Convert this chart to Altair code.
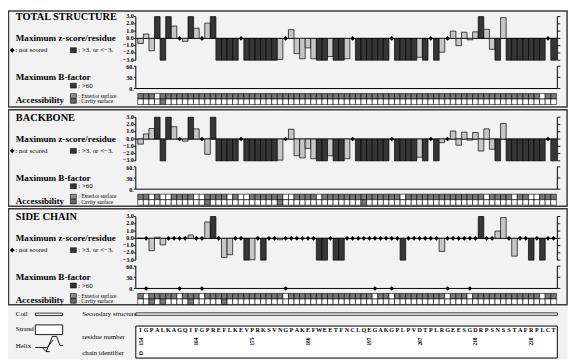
import altair as alt
import pandas as pd

# ------------------------------------------------------------------ data
SECTION_TITLES = ["TOTAL STRUCTURE", "BACKBONE", "SIDE CHAIN"]

SEQUENCE = "IGPALKAGQIFGPREFLKEVPRKSVNGPAKEFWEETFNCLQEGAKGPLPVDTPLRGEESGDRPSNSSTAFRPLCT"
RESNUM_POS = [0, 10, 20, 30, 41, 50, 60, 70]
RESNUM_LABELS = ["154", "164", "175", "186", "197", "207", "218", "228"]
CHAIN_ID = "D"

TOTAL_Z = [
    -0.7, 0.6, -1.7, 3, -3, 3, 1.7, None, -0.4, 3,
    1.4, None, 2.1, 3, -3, -3, -3, -3, None, -3,
    -3, -3, -3, -3, -3, -2.9, None, 1.2, -2.1, -2.8,
    -1.3, -2.8, -3, -3, -2.5, -3, -3, -2.8, None, -3,
    -3, -3, -3, -3, -3, None, -3, -3, -3, -3,
    -2.6, -3, None, -3, -1.9, None, 1.0, -1.0, 0.85, -0.2,
    0.9, 3, 1.25, -1.5, -3, 2.85, -3, -3, -3, -3,
    -3, -3, -3, None, -3,
]
BACKBONE_Z = [
    -0.7, 0.7, 1.45, 3, -3, 3, 1.7, None, -0.3, 3,
    1.4, None, -2.1, 3, -3, -3, -3, -3, None, -3,
    -3, -3, -3, -3, -3, -2.9, None, 1.35, -2.3, -2.6,
    -1.3, -2.7, -3, -3, -2.3, -3, -3, -2.7, None, -3,
    -3, -3, -3, -3, -3, None, -3, -3, -3, -3,
    -2.5, -3, None, -3, -0.5, None, 1.1, -0.85, 0.95, -0.15,
    0.9, -1.65, 1.4, -1.4, -3, 2.15, -3, -3, -3, -3,
    -3, -3, -3, None, -3,
]
SIDECHAIN_Z = [
    0.0, None, -1.7, 0.15, -0.9, None, None, None, None, 0.45,
    None, None, 2.25, 3, None, -2.65, -2.25, None, None, -3,
    -2.95, None, -3, None, None, -0.2, None, None, None, None,
    None, None, -3, -3, None, -3, -3, None, None, None,
    None, None, None, None, None, None, None, -3, None, None,
    None, None, None, None, -1.8, None, None, None, None, None,
    None, 3, None, None, 1.0, 2.85, None, -2.45, None, None,
    -3, None, -3, None, None,
]
# residues whose side-chain B-factor is not scored
SIDECHAIN_B_NOT_SCORED = [1, 7, 11, 26, 42, 45, 55, 59]

# accessibility: 1 = shaded cell, 0 = white cell
TOTAL_EXTERIOR = ("1110111111" "1111111111" "1111111111" "1111111111"
                  "1111111111" "1111111111" "1111111111" "11011")
TOTAL_CAVITY = ("0000100000" "0000000000" "0000000000" "0000000000"
                "0000000000" "0000000000" "0000000000" "00000")
BACKBONE_EXTERIOR = ("1101001111" "0011110100" "1111110011" "1101111111"
                     "1111111011" "1111111111" "1101111011" "00111")
BACKBONE_CAVITY = ("0000000000" "0010000000" "0000010000" "0000000000"
                   "1000000000" "0000000000" "0000000000" "00000")
SIDECHAIN_EXTERIOR = ("1011111011" "1011111111" "1111110111" "1111111111"
                      "1101101111" "1111101110" "1111111111" "11011")
SIDECHAIN_CAVITY = ("0010100001" "0000010000" "0000000000" "0000000000"
                    "0000000000" "0000000000" "0000000000" "00000")

Z_TICKS = [3, 2, 1, 0, -1, -2, -3]
Z_TICK_LABELS = ["3.0", "2.0", "1.0", "0.0", "\u22121.0", "\u22122.0", "\u22123.0"]
B_TICKS = [60, 30, 0]
B_TICK_LABELS = ["60.", "30.", "0."]

# ------------------------------------------------------------------ geometry / style
N_RES = len(SEQUENCE)
SX = 569 / 575
SY = 353 / 359


def X(x):
    return round((x - 2) * SX, 2)


def Y(y):
    return round((y - 2) * SY, 2)


FONT = "Liberation Serif"
DARK = "#363636"
LIGHT = "#c6c6c6"
CELL = "#777777"
PANEL = "#f2f2f2"
FRAME = "#3c3c3c"

OFFSETS = [0, 103.8, 206.2]
BOX_TOP = [2.5, 104.5, 206.5]
BOX_BOT = [101.5, 204.0, 305.5]

XSCALE = alt.Scale(domain=[0, N_RES], range=[X(135), X(564)], nice=False, zero=False)


def xq(field):
    return alt.X(f"{field}:Q", scale=XSCALE, axis=None)


def one_row(**kw):
    d = {"k": 1}
    d.update(kw)
    return alt.Data(values=[d])


def text(s, x, y, size, bold=False, align="left", color="black"):
    return alt.Chart(one_row(t=s)).mark_text(
        font=FONT, fontSize=size, fontWeight="bold" if bold else "normal",
        align=align, baseline="middle", color=color
    ).encode(x=alt.value(X(x)), y=alt.value(Y(y)), text="t:N")


def box(x0, x1, y0, y1, fill, stroke=None, sw=1.0):
    kw = {"fill": fill}
    if stroke:
        kw.update(stroke=stroke, strokeWidth=sw)
    else:
        kw.update(strokeWidth=0)
    return alt.Chart(one_row()).mark_rect(**kw).encode(
        x=alt.value(X(x0)), x2=alt.value(X(x1)), y=alt.value(Y(y0)), y2=alt.value(Y(y1))
    )


def vrule(x, scale, a, b, sw=1.0):
    return alt.Chart(one_row(a=a, b=b)).mark_rule(color="black", strokeWidth=sw).encode(
        x=alt.value(X(x)), y=alt.Y("a:Q", scale=scale, axis=None), y2="b:Q"
    )


def ticks(x0, x1, scale, values, sw=0.9):
    return alt.Chart(pd.DataFrame({"v": values})).mark_rule(color="black", strokeWidth=sw).encode(
        x=alt.value(X(x0)), x2=alt.value(X(x1)), y=alt.Y("v:Q", scale=scale, axis=None)
    )


def tick_labels(x, scale, values, labels, size=6.2, dy=0):
    return alt.Chart(pd.DataFrame({"v": values, "lab": labels})).mark_text(
        font=FONT, fontSize=size, fontWeight="bold", align="right", baseline="middle", dy=dy
    ).encode(x=alt.value(X(x)), y=alt.Y("v:Q", scale=scale, axis=None), text="lab:N")


def section(k, zvals, ext, cav, b_not_scored=None):
    off = OFFSETS[k]
    zs = alt.Scale(domain=[-3, 3], range=[Y(53.3 + off), Y(8.3 + off)], nice=False, zero=False)
    bs = alt.Scale(domain=[0, 60], range=[Y(82.5 + off), Y(59.5 + off)], nice=False, zero=False)
    acs = alt.Scale(domain=[0, 2], range=[Y(99 + off), Y(87.7 + off)], nice=False, zero=False)
    L = [box(2.5, 575, BOX_TOP[k], BOX_BOT[k], PANEL, FRAME, 1.5)]

    # --- text block on the left
    L.append(text(SECTION_TITLES[k], 10, 8.8 + off, 10.5, bold=True))
    L.append(text("Maximum z-score/residue", 10, 30.7 + off, 9.2, bold=True))
    L.append(alt.Chart(one_row()).mark_point(shape="diamond", filled=True, color="black", size=24, opacity=1).encode(
        x=alt.value(X(6.3)), y=alt.value(Y(43 + off))))
    L.append(text(": not scored", 9.5, 43 + off, 7))
    L.append(box(66, 72, 40.5 + off, 45.5 + off, DARK, "black", 0.6))
    L.append(text(": >3. or <\u22123.", 74, 43 + off, 7))
    L.append(text("Maximum B-factor", 10, 71 + off, 9.2, bold=True))
    L.append(box(66, 72, 77 + off, 82 + off, DARK, "black", 0.6))
    L.append(text(": >60", 74, 79.5 + off, 7))
    L.append(text("Accessibility", 10, 94.5 + off, 9.2, bold=True))
    L.append(box(66, 72, 87.8 + off, 92.5 + off, "#8c8c8c", "black", 0.6))
    L.append(box(66, 72, 93.0 + off, 97.7 + off, "#686868", "black", 0.6))
    L.append(text(": Exterior surface", 74, 90 + off, 5.6))
    L.append(text(": Cavity surface", 74, 95.8 + off, 5.6))

    # --- z-score axes
    L.append(tick_labels(131, zs, Z_TICKS, Z_TICK_LABELS, dy=-0.5))
    L.append(vrule(133, zs, 3, -3))
    L.append(ticks(131, 133, zs, Z_TICKS))
    L.append(vrule(565, zs, 3, -3))
    L.append(ticks(565, 568, zs, Z_TICKS))
    L.append(alt.Chart(one_row(v=0)).mark_rule(color="black", strokeWidth=1.0).encode(
        x=alt.value(X(133)), x2=alt.value(X(565)), y=alt.Y("v:Q", scale=zs, axis=None)))

    # --- z-score bars and not-scored diamonds
    bars = pd.DataFrame([{"x0": i, "x1": i + 1, "z": v, "zero": 0}
                         for i, v in enumerate(zvals) if v is not None])
    L.append(alt.Chart(bars).mark_rect(stroke="black", strokeWidth=0.7).encode(
        x=xq("x0"), x2="x1:Q",
        y=alt.Y("z:Q", scale=zs, axis=None), y2="zero:Q",
        fill=alt.condition("abs(datum.z) >= 3", alt.value(DARK), alt.value(LIGHT))))
    ns = pd.DataFrame([{"xc": i + 0.5, "zero": 0} for i, v in enumerate(zvals) if v is None])
    L.append(alt.Chart(ns).mark_point(shape="diamond", filled=True, color="black", size=22, opacity=1).encode(
        x=xq("xc"), y=alt.Y("zero:Q", scale=zs, axis=None)))

    # --- B-factor axes
    L.append(tick_labels(131, bs, B_TICKS, B_TICK_LABELS, dy=1))
    L.append(vrule(133, bs, 60, 0))
    L.append(ticks(131, 133, bs, B_TICKS))
    L.append(vrule(565, bs, 60, 0))
    L.append(ticks(565, 568, bs, B_TICKS))
    L.append(alt.Chart(one_row(v=0)).mark_rule(color="black", strokeWidth=1.0).encode(
        x=alt.value(X(133)), x2=alt.value(X(565)), y=alt.Y("v:Q", scale=bs, axis=None)))
    if b_not_scored:
        bns = pd.DataFrame({"xc": [i + 0.5 for i in b_not_scored], "zero": 0})
        L.append(alt.Chart(bns).mark_point(shape="diamond", filled=True, color="black", size=22, opacity=1).encode(
            x=xq("xc"), y=alt.Y("zero:Q", scale=bs, axis=None)))

    # --- accessibility grid
    cells = []
    for i in range(N_RES):
        cells.append({"x0": i, "x1": i + 1, "r0": 1, "r1": 2, "on": ext[i]})
        cells.append({"x0": i, "x1": i + 1, "r0": 0, "r1": 1, "on": cav[i]})
    L.append(alt.Chart(pd.DataFrame(cells)).mark_rect(stroke="black", strokeWidth=0.6).encode(
        x=xq("x0"), x2="x1:Q",
        y=alt.Y("r0:Q", scale=acs, axis=None), y2="r1:Q",
        fill=alt.condition("datum.on == '1'", alt.value(CELL), alt.value("white"))))
    return L


layers = [box(2, 575.5, 2, 362, PANEL)]
layers += section(0, TOTAL_Z, TOTAL_EXTERIOR, TOTAL_CAVITY)
layers += section(1, BACKBONE_Z, BACKBONE_EXTERIOR, BACKBONE_CAVITY)
layers += section(2, SIDECHAIN_Z, SIDECHAIN_EXTERIOR, SIDECHAIN_CAVITY, SIDECHAIN_B_NOT_SCORED)

# ------------------------------------------------------------------ bottom legend
layers.append(text("Coil", 10, 315.3, 7))
layers.append(box(30, 58, 314.2, 316.6, "white", "black", 0.8))
layers.append(text("Strand", 10, 331, 7))
layers.append(box(30, 58, 326.3, 336.3, "white", "black", 0.9))
layers.append(text("Helix", 10, 348, 7))
HELIX_PATH = ("M-1,0.25 L-0.5,0.25 L-0.2,0.55 L0.25,-0.55 L0.55,-0.55 L0.8,0.1 L1,0.1 "
              "M-0.5,0.25 L-0.1,0.25 L0.3,-0.3 M-0.2,0.55 L0.05,0.55")
layers.append(alt.Chart(one_row()).mark_point(shape=HELIX_PATH, filled=False, stroke="black",
                                               strokeWidth=0.9, size=784, opacity=1).encode(
    x=alt.value(X(44)), y=alt.value(Y(346))))
layers.append(text("Secondary structure", 78, 315.3, 7))
layers.append(box(133, 565, 313.9, 316.4, "white", "black", 0.8))
layers.append(text("residue number", 78, 339, 7))
layers.append(text("chain identifier", 78, 355.5, 7))
layers.append(box(133, 565, 327.5, 360.5, "white", "black", 1.0))

seq_df = pd.DataFrame({"xc": [i + 0.5 for i in range(N_RES)], "aa": list(SEQUENCE)})
layers.append(alt.Chart(seq_df).mark_text(font=FONT, fontSize=6.2, fontWeight="bold",
                                          align="center", baseline="middle").encode(
    x=xq("xc"), y=alt.value(Y(331.8)), text="aa:N"))
num_df = pd.DataFrame({"xc": [i + 0.5 for i in RESNUM_POS], "lab": RESNUM_LABELS})
layers.append(alt.Chart(num_df).mark_text(font=FONT, fontSize=5.5, fontWeight="bold", angle=270,
                                          align="center", baseline="middle").encode(
    x=xq("xc"), y=alt.value(Y(343.5)), text="lab:N"))
chain_df = pd.DataFrame({"xc": [0.5], "lab": [CHAIN_ID]})
layers.append(alt.Chart(chain_df).mark_text(font=FONT, fontSize=6, fontWeight="bold", angle=270,
                                            align="center", baseline="middle").encode(
    x=xq("xc"), y=alt.value(Y(355.5)), text="lab:N"))

chart = alt.layer(*layers).resolve_scale(y="independent").properties(
    width=572, height=354, autosize=alt.AutoSizeParams(type="none"), padding=0,
    background="white"
).configure_view(stroke=None)

chart.save("out.html", embed_options={"renderer": "svg", "actions": False})
